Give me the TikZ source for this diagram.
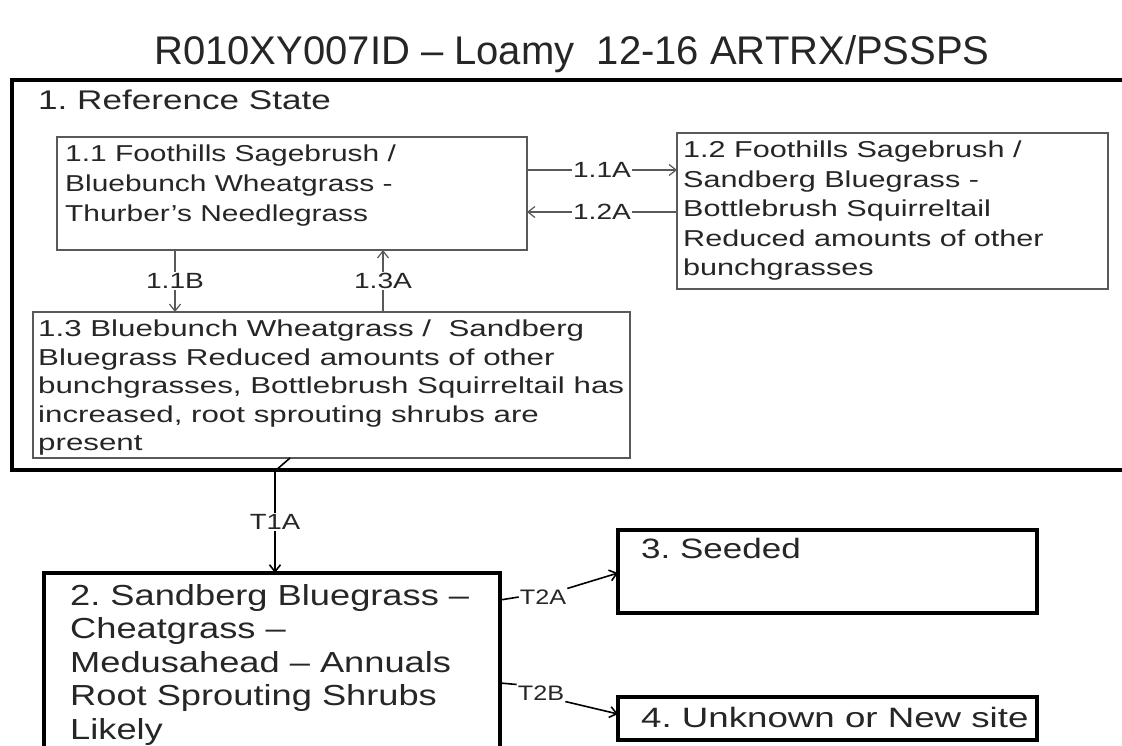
\documentclass[tikz,border=0pt]{standalone}
\usepackage{fontspec}
\setmainfont{Liberation Sans}
\usetikzlibrary{calc,arrows.meta}
\newcommand{\sxtext}[2]{\scalebox{#1}[1]{\begin{tabular}[t]{@{}l@{}}#2\end{tabular}}}
\newcommand{\lxtext}[1]{\scalebox{1.28}[1]{#1}}
\begin{document}
\frenchspacing
\begin{tikzpicture}[x=1pt,y=-1pt,
  thinbox/.style={draw=black!65, line width=1.4pt, inner sep=0pt, outer sep=0pt, anchor=north west, fill=white},
  thickbox/.style={draw=black, line width=3.2pt, inner sep=0pt, outer sep=0pt, anchor=north west},
  txt/.style={anchor=base west, align=left, inner sep=0pt, text=black!85},
  lab/.style={inner sep=1pt, fill=white, text=black!85, font=\fontsize{22}{24}\selectfont},
  conn/.style={draw=black!65, line width=1.2pt},
  tip/.style={-{Straight Barb[length=7pt,width=11pt]}},
  tconn/.style={draw=black, line width=1.6pt}
]
\useasboundingbox (0,0) rectangle (1122,745);
\fill[white] (0,0) rectangle (1122,745);
% title
\node[inner sep=0pt, text=black!85] (title) at (572,54) {\scalebox{1.0}[1]{\fontsize{40}{42}\selectfont R010XY007ID -- Loamy\ \ 12-16 ARTRX/PSSPS}};
% reference state
\node[thickbox, minimum width=1112pt, minimum height=390pt] (ref) at (12,80) {};
\node[txt, font=\fontsize{27}{32}\selectfont] (reft) at (38,109.5) {\sxtext{1.30}{1. Reference State}};
% 1.1
\node[thinbox, minimum width=470pt, minimum height=113pt] (b11) at (57,137) {};
\node[txt, font=\fontsize{23}{30}\selectfont] (t11) at (65,161.5) {\sxtext{1.3}{1.1 Foothills Sagebrush /\\Bluebunch Wheatgrass -\\Thurber’s Needlegrass}};
% 1.2
\node[thinbox, minimum width=431pt, minimum height=156pt] (b12) at (677,133) {};
\node[txt, font=\fontsize{23}{29.5}\selectfont] (t12) at (683,157.5) {\sxtext{1.33}{1.2 Foothills Sagebrush /\\Sandberg Bluegrass -\\Bottlebrush Squirreltail\\Reduced amounts of other\\bunchgrasses}};
% 1.3
\node[thinbox, minimum width=597pt, minimum height=146pt] (b13) at (33,312) {};
\node[txt, font=\fontsize{23}{28.5}\selectfont] (t13) at (38,336.5) {\sxtext{1.36}{1.3 Bluebunch Wheatgrass /\ \ Sandberg\\Bluegrass Reduced amounts of other\\bunchgrasses, Bottlebrush Squirreltail has\\increased, root sprouting shrubs are\\present}};
% 2
\node[thickbox, minimum width=456pt, minimum height=200pt] (b2) at (44,573) {};
\node[txt, font=\fontsize{29}{33.5}\selectfont] (t2) at (70,605) {\sxtext{1.25}{2. Sandberg Bluegrass --\\Cheatgrass --\\Medusahead -- Annuals\\Root Sprouting Shrubs\\Likely}};
% 3
\node[thickbox, minimum width=419pt, minimum height=83pt] (b3) at (618,530) {};
\node[txt, font=\fontsize{28}{32}\selectfont] (t3) at (641,558) {\sxtext{1.25}{3. Seeded}};
% 4
\node[thickbox, minimum width=419pt, minimum height=43pt] (b4) at (618,697) {};
\node[txt, font=\fontsize{28}{32}\selectfont] (t4) at (641,727) {\sxtext{1.31}{4. Unknown or New site}};
% transitions inside reference state
\draw[conn, tip] ($(b11.north east)+(0,33)$) -- node[lab] (l11a) {\lxtext{1.1A}} ($(b12.north west)+(0,37)$);
\draw[conn, tip] ($(b12.north west)+(0,79)$) -- node[lab] (l12a) {\lxtext{1.2A}} ($(b11.north east)+(0,75)$);
\draw[conn, tip] ($(b11.south west)+(118,0)$) -- node[lab] (l11b) {\lxtext{1.1B}} ($(b13.north west)+(142,0)$);
\draw[conn, tip] ($(b13.north west)+(350,0)$) -- node[lab] (l13a) {\lxtext{1.3A}} ($(b11.south west)+(326,0)$);
% T1A
\coordinate (k1) at (275,471);
\draw[tconn] ($(b13.south west)+(257,0)$) -- (k1);
\draw[tconn, tip] (k1) -- node[lab, font=\fontsize{22}{24}\selectfont] (lt1a) {\scalebox{1.25}[1]{T1A}} (b2.north west -| k1);
% T2A
\node[lab, font=\fontsize{21}{22}\selectfont] (lt2a) at (543,597) {\scalebox{1.2}[1]{T2A}};
\draw[tconn] ($(b2.north east)+(0,27)$) -- (lt2a.west);
\draw[tconn, tip] (lt2a.north east) -- ($(b3.north west)+(0,43)$);
% T2B
\node[lab, font=\fontsize{21}{22}\selectfont] (lt2b) at (541,693) {\scalebox{1.2}[1]{T2B}};
\draw[tconn] ($(b2.north east)+(0,110)$) -- (lt2b.north west);
\draw[tconn, tip] (lt2b.south east) -- ($(b4.north west)+(0,17)$);
\end{tikzpicture}
\end{document}
